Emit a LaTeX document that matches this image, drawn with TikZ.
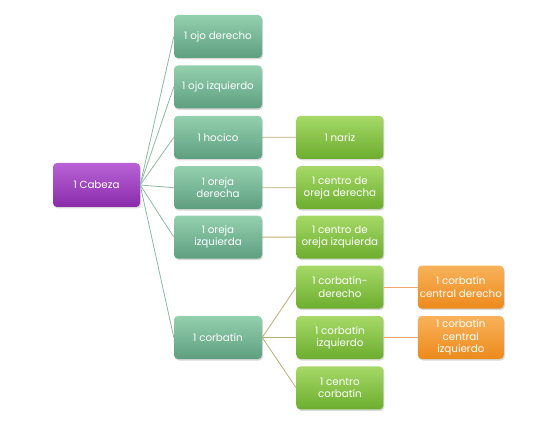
\documentclass[tikz,border=0pt]{standalone}
\usepackage{fontspec}
\setmainfont{Poppins}
\usetikzlibrary{positioning,shadows}

\definecolor{moradoA}{HTML}{B863D6}
\definecolor{moradoB}{HTML}{8A2BAA}
\definecolor{tealA}{HTML}{93D0AE}
\definecolor{tealB}{HTML}{5E9F80}
\definecolor{verdeA}{HTML}{A6D968}
\definecolor{verdeB}{HTML}{6CAD2E}
\definecolor{naranjaA}{HTML}{F9B25A}
\definecolor{naranjaB}{HTML}{EC8A1C}
\definecolor{lineaA}{HTML}{8DB9A4}
\definecolor{lineaB}{HTML}{B9AC74}
\definecolor{lineaC}{HTML}{F0A868}

\tikzset{
  caja/.style={rounded corners=4pt, minimum width=88pt, minimum height=43pt,
    align=center, text=white, inner sep=1pt,
    font=\fontsize{10.3}{12.3}\selectfont,
    drop shadow={shadow xshift=1pt, shadow yshift=-1.5pt, opacity=0.3}},
  raiz/.style={caja, top color=moradoA, bottom color=moradoB, minimum width=87pt, minimum height=44pt},
  nivelA/.style={caja, top color=tealA, bottom color=tealB},
  nivelB/.style={caja, top color=verdeA, bottom color=verdeB, minimum width=87pt},
  nivelC/.style={caja, top color=naranjaA, bottom color=naranjaB, minimum width=86pt},
  ramaA/.style={draw=lineaA, line width=0.8pt},
  ramaB/.style={draw=lineaB, line width=0.8pt},
  ramaC/.style={draw=lineaC, line width=0.8pt}
}

\begin{document}
\begin{tikzpicture}[x=1pt, y=-1pt]
  \useasboundingbox (0,0) rectangle (552,433);

  \node[raiz] (cabeza) at (96.5,185) {1 Cabeza};

  \node[nivelA] (ojoD) at (218,36.5)          {1 ojo derecho};
  \node[nivelA] (ojoI) [below=7pt of ojoD]    {1 ojo izquierdo};
  \node[nivelA] (hocico) [below=7pt of ojoI]  {1 hocico};
  \node[nivelA] (orejaD) [below=7pt of hocico] {1 oreja\\derecha};
  \node[nivelA] (orejaI) [below=6pt of orejaD] {1 oreja\\izquierda};
  \node[nivelA] (corbatin) [below=57pt of orejaI] {1 corbatín};

  \node[nivelB] (nariz) [right=34pt of hocico]    {1 nariz};
  \node[nivelB] (centroD) [right=34pt of orejaD]  {1 centro de\\oreja derecha};
  \node[nivelB] (centroI) [right=34pt of orejaI]  {1 centro de\\oreja izquierda};
  \node[nivelB] (corbI) [right=34pt of corbatin]  {1 corbatín\\izquierdo};
  \node[nivelB] (corbD) [above=7pt of corbI]      {1 corbatín-\\derecho};
  \node[nivelB] (centroC) [below=7pt of corbI]    {1 centro\\corbatín};

  \node[nivelC] (centralD) [right=34pt of corbD] {1 corbatín\\central derecho};
  \node[nivelC] (centralI) [right=34pt of corbI] {1 corbatín\\central\\izquierdo};

  % ramas
  \foreach \hijo in {ojoD,ojoI,hocico,orejaD,orejaI,corbatin}
    \path[ramaA] (cabeza.east) -- (\hijo.west);
  \path[ramaB] (hocico) -- (nariz)
               (orejaD) -- (centroD)
               (orejaI) -- (centroI)
               (corbatin.east) -- (corbD.west)
               (corbatin.east) -- (corbI.west)
               (corbatin.east) -- (centroC.west);
  \path[ramaC] (corbD) -- (centralD)
               (corbI) -- (centralI);
\end{tikzpicture}
\end{document}
